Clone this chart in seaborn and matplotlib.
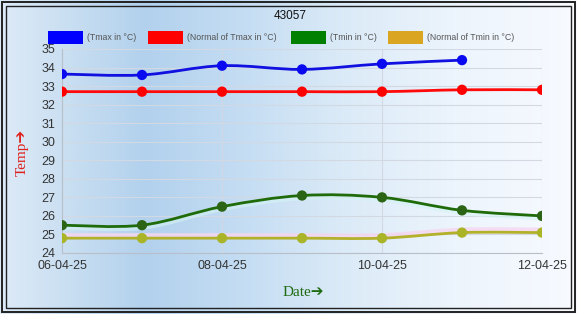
import numpy as np
import pandas as pd
import matplotlib
matplotlib.use("Agg")
import matplotlib.pyplot as plt
import seaborn as sns
from matplotlib.path import Path
from matplotlib.patches import PathPatch, Rectangle

dates = ["06-04-25", "07-04-25", "08-04-25", "09-04-25", "10-04-25", "11-04-25", "12-04-25"]
tmax = [33.65, 33.6, 34.1, 33.9, 34.2, 34.4, np.nan]
normal_tmax = [32.7, 32.7, 32.7, 32.7, 32.7, 32.8, 32.8]
tmin = [25.5, 25.5, 26.5, 27.1, 27.0, 26.3, 26.0]
normal_tmin = [24.8, 24.8, 24.8, 24.8, 24.8, 25.1, 25.1]
tick_labels = ["06-04-25", "08-04-25", "10-04-25", "12-04-25"]
title = "43057"

sns.set_theme(style="white")
plt.rcParams["font.family"] = ["Liberation Sans", "DejaVu Sans"]

fig = plt.figure(figsize=(5.77, 3.14), dpi=100)
W, H = 577, 314

# background gradient
bg = fig.add_axes([0, 0, 1, 1], zorder=-10)
xs = np.linspace(0, 1, 600)
stops_x = [0.0, 0.1, 0.25, 0.4, 0.6, 0.8, 1.0]
stops_c = np.array([[0.87, 0.92, 0.97], [0.80, 0.88, 0.95], [0.70, 0.82, 0.93],
                    [0.76, 0.86, 0.95], [0.86, 0.92, 0.97], [0.93, 0.96, 0.99], [0.97, 0.98, 1.0]])
grad = np.stack([np.interp(xs, stops_x, stops_c[:, k]) for k in range(3)], axis=-1)
img = np.repeat(grad[None, :, :], 20, axis=0)
bg.imshow(img, aspect="auto", extent=[0, 1, 0, 1])
bg.set_xlim(0, 1); bg.set_ylim(0, 1)
bg.axis("off")
for off, lw in [(2, 1.4), (6, 1.0)]:
    bg.add_patch(Rectangle((off / W, off / H), 1 - 2 * off / W, 1 - 2 * off / H,
                           fill=False, edgecolor="#222222", linewidth=lw,
                           transform=bg.transAxes))

ax = fig.add_axes([62 / W, 1 - 253 / H, (542 - 62) / W, (253 - 49) / H])
ax.set_facecolor("none")

x = np.arange(len(dates))
df = pd.DataFrame({"x": x, "tmax": tmax, "ntmax": normal_tmax, "tmin": tmin, "ntmin": normal_tmin})


def smooth_path(xv, yv):
    pts = np.array([(a, b) for a, b in zip(xv, yv) if not np.isnan(b)], dtype=float)
    verts = [tuple(pts[0])]
    codes = [Path.MOVETO]
    n = len(pts)
    for i in range(n - 1):
        p0 = pts[i - 1] if i > 0 else pts[i]
        p1 = pts[i]
        p2 = pts[i + 1]
        p3 = pts[i + 2] if i + 2 < n else pts[i + 1]
        c1 = p1 + (p2 - p0) / 6.0
        c2 = p2 - (p3 - p1) / 6.0
        verts += [tuple(c1), tuple(c2), tuple(p2)]
        codes += [Path.CURVE4] * 3
    return Path(verts, codes)


series = [
    ("tmax", "#1010e0", "#0a0af0"),
    ("ntmax", "#ff0a0a", "#ff0000"),
    ("tmin", "#1f6b0a", "#2a6414"),
    ("ntmin", "#b3b02a", "#a9b526"),
]
# faint glow under the lower lines
ax.add_patch(PathPatch(smooth_path(df["x"], df["ntmin"] + 0.12), fill=False,
                       edgecolor="#f6d6f0", linewidth=4, alpha=0.8, zorder=2))
ax.add_patch(PathPatch(smooth_path(df["x"], df["tmin"] - 0.1), fill=False,
                       edgecolor="#d4f4f4", linewidth=4, alpha=0.6, zorder=2))
for col, lc, mc in series:
    ax.add_patch(PathPatch(smooth_path(df["x"], df[col]), fill=False, edgecolor=lc,
                           linewidth=2.0, zorder=3))
    sub = df.dropna(subset=[col])
    sns.scatterplot(data=sub, x="x", y=col, ax=ax, color=mc, s=55, edgecolor="none",
                    zorder=4, legend=False)

ax.set_xlim(0, 6)
ax.set_ylim(24, 35)
ax.set_yticks(np.arange(24, 36, 1))
ax.set_xticks([0, 2, 4, 6])
ax.set_xticklabels(tick_labels)
ax.grid(True, color="#d3d9e2", linewidth=0.8)
ax.set_axisbelow(True)
for s in ["top", "right"]:
    ax.spines[s].set_visible(False)
for s in ["left", "bottom"]:
    ax.spines[s].set_color("#b8bfc8")
    ax.spines[s].set_linewidth(0.8)
ax.tick_params(axis="x", length=5, color="#c0c6ce", labelsize=9, labelcolor="#333333", pad=0)
ax.tick_params(axis="y", length=0, labelsize=9, labelcolor="#333333", pad=5)
ax.set_xlabel("")
ax.set_ylabel("")

fig.text(22 / W, 1 - 152 / H, "Temp➔", rotation=90, ha="center", va="center",
         color="#e0201c", fontsize=11, family=["Liberation Serif", "DejaVu Sans"])
fig.text(303 / W, 1 - 293 / H, "Date➔", ha="center", va="center",
         color="#1e6b10", fontsize=11, family=["Liberation Serif", "DejaVu Sans"])
fig.text(290 / W, 1 - 16 / H, title, ha="center", va="center", color="#111111", fontsize=8.5)

leg_items = [("(Tmax in °C)", "#0000ff", 48), ("(Normal of Tmax in °C)", "#ff0000", 148),
             ("(Tmin in °C)", "#008000", 291), ("(Normal of Tmin in °C)", "#daa520", 388)]
for lbl, c, lx in leg_items:
    bg.add_patch(Rectangle((lx / W, 1 - 44 / H), 35 / W, 13 / H, facecolor=c,
                           edgecolor="none", transform=bg.transAxes))
    fig.text((lx + 39) / W, 1 - 37 / H, lbl, ha="left", va="center", color="#555555",
             fontsize=6.3)

fig.savefig("out.png", dpi=100)
